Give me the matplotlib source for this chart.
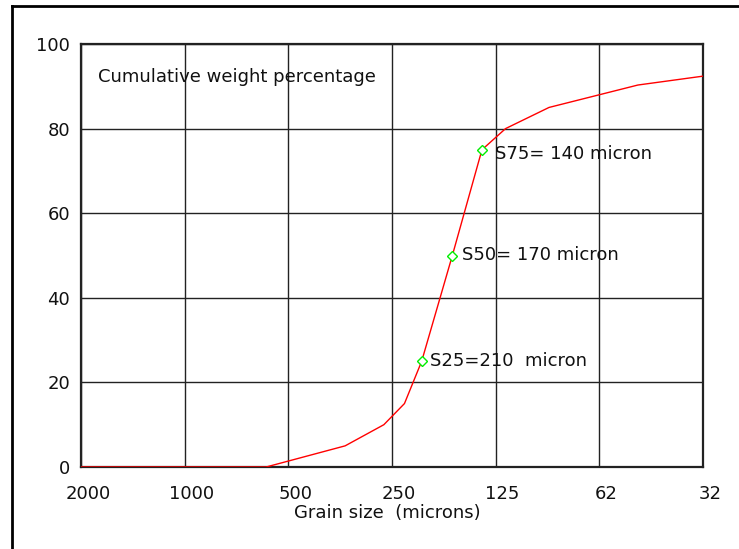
import matplotlib
matplotlib.use("Agg")
import matplotlib.pyplot as plt
from matplotlib.lines import Line2D
from matplotlib.transforms import ScaledTranslation

# Data
grain_size = [2000, 580, 342, 264, 230, 205, 167, 137, 117, 87.5, 48.3, 31.25]
cum_weight = [0, 0, 5, 10, 15, 25, 50, 75, 80, 85, 90.3, 92.4]

marker_size = [205, 167, 137]
marker_val = [25, 50, 75]
marker_text = ["S25=210  micron", "S50= 170 micron", "S75= 140 micron"]
marker_offsets = [(8, 0), (10, 0), (13, -4)]  # pixels (x right, y up)

xtick_pos = [2000, 1000, 500, 250, 125, 62.5, 31.25]
xtick_lab = ["2000", "1000", "500", "250", "125", "62", "32"]
ytick_pos = [0, 20, 40, 60, 80, 100]

plt.rcParams['font.family'] = ['DejaVu Sans']
FS = 13

fig = plt.figure(figsize=(7.39, 5.49), dpi=100)
W, H = 739, 549
ax = fig.add_axes([81 / W, (H - 467) / H, 622 / W, 423 / H])

ax.set_xscale('log', base=2)
ax.set_xlim(2000, 31.25)
ax.set_ylim(0, 100)

ax.plot(grain_size, cum_weight, color='#ff0000', lw=1.0, zorder=3)
ax.plot(marker_size, marker_val, linestyle='none', marker='D', markersize=5.5,
        markerfacecolor='white', markeredgecolor='#00ee00', markeredgewidth=1.0, zorder=4)

for xs, yv, t, (dx, dy) in zip(marker_size, marker_val, marker_text, marker_offsets):
    ax.annotate(t, (xs, yv), xytext=(dx, dy), textcoords='offset pixels',
                ha='left', va='center', fontsize=FS, color='#111111')

ax.text((97.6 - 81) / 622, (467 - 77) / 423, "Cumulative weight percentage",
        transform=ax.transAxes, ha='left', va='center', fontsize=FS, color='#111111')

ax.set_xticks(xtick_pos)
ax.set_xticklabels(xtick_lab)
ax.xaxis.set_minor_locator(matplotlib.ticker.NullLocator())
ax.set_yticks(ytick_pos)
ax.set_yticklabels([str(v) for v in ytick_pos])
ax.tick_params(axis='both', length=0, labelsize=FS, labelcolor='#111111')
ax.tick_params(axis='x', pad=13)
ax.tick_params(axis='y', pad=8)
for lab in ax.get_xticklabels():
    lab.set_transform(lab.get_transform() + ScaledTranslation(7 / 100, 0, fig.dpi_scale_trans))

ax.grid(True, which='major', color='#222222', lw=1.0)
ax.set_axisbelow(True)
for s in ax.spines.values():
    s.set_linewidth(1.6)
    s.set_color('#222222')

ax.set_xlabel("Grain size  (microns)", fontsize=FS, color='#111111', labelpad=0.5)
ax.xaxis.label.set_x((387 - 81) / 622)

# Figure border (left and top)
fig.add_artist(Line2D([11.7 / W, 11.7 / W], [0, 1 - 6 / H], transform=fig.transFigure,
                      color='black', lw=2))
fig.add_artist(Line2D([11.7 / W, 1], [1 - 6 / H, 1 - 6 / H], transform=fig.transFigure,
                      color='black', lw=2))

fig.savefig("out.png", dpi=100)
